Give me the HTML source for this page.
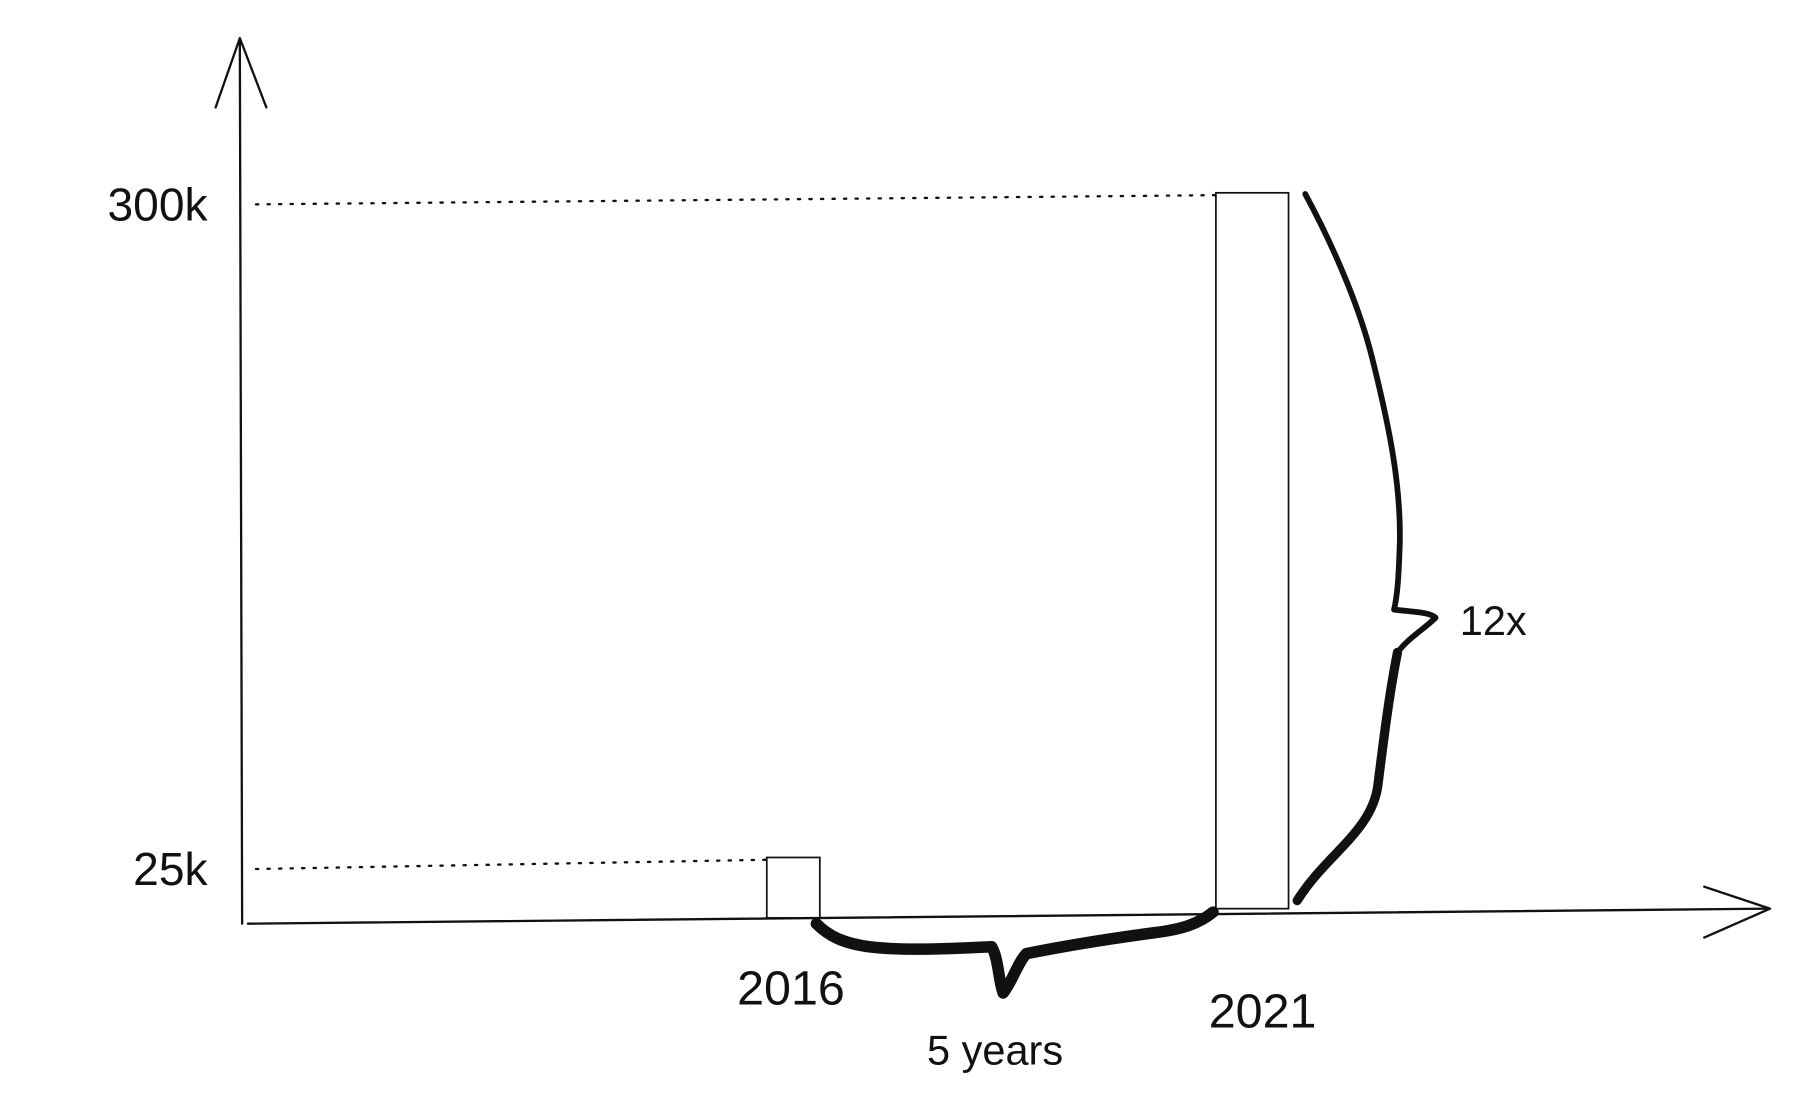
<!DOCTYPE html>
<html><head><meta charset="utf-8"><style>
html,body{margin:0;padding:0;background:#fff;}
svg{display:block;}
text{font-family:"Liberation Sans",sans-serif;fill:#111;}
</style></head><body>
<svg id="chart" width="1808" height="1098" viewBox="0 0 1568 951" preserveAspectRatio="none" xmlns="http://www.w3.org/2000/svg">
<g fill="none" stroke="#111" stroke-linecap="round" stroke-linejoin="round">
<path d="M210 800 L208 35" stroke-width="2"/>
<path d="M187 93 L208 33 L231 93" stroke-width="2"/>
<path d="M215 800 L1535 787" stroke-width="2"/>
<path d="M1478 768 L1535 787 L1478 812" stroke-width="2"/>
<path d="M1132 168 C1160 220 1180 270 1190 310 C1205 370 1215 420 1214 470 C1213 500 1212 515 1209 528 C1225 530 1240 530 1245 535 C1235 545 1222 552 1212 565 C1205 600 1200 640 1195 680 C1190 720 1150 740 1125 780" stroke-width="5"/>
<path d="M1212 565 C1205 600 1200 640 1195 680 C1190 720 1150 740 1125 780" stroke-width="8"/>
<path d="M708 800 C730 822 760 825 860 820 C866 830 866 850 870 860 C878 850 882 835 890 826 C930 818 970 812 1000 808 C1025 805 1040 800 1052 790" stroke-width="10"/>
</g>
<g id="marks"></g>
<text x="1266" y="550" font-size="36">12x</text>
<text x="804" y="922" font-size="36">5 years</text>
</svg>
<script>
const years = ["2016", "2021"];
const values = [25000, 300000];
const tickValues = [25000, 300000];
const tickLabels = ["25k", "300k"];

const NS = "http://www.w3.org/2000/svg";
const g = document.getElementById('marks');
function yScale(v){ return 795 - v * (628 / 300000); }
function xCenter(i){ return i === 0 ? 688 : 1086; }
const barWidths = [46, 63];
function mk(tag, attrs){ const e = document.createElementNS(NS, tag); for (const k in attrs) e.setAttribute(k, attrs[k]); g.appendChild(e); return e; }

tickValues.forEach((v, i) => {
  const y = yScale(v);
  const line = mk('line', {x1: 222, y1: y + 10, x2: i === 0 ? 665 : 1058, y2: y + 2, stroke: '#111', 'stroke-width': 2, 'stroke-dasharray': '2 8', 'stroke-linecap': 'round'});
  
  
  const t = mk('text', {x: 180, y: y + 24, 'font-size': 40, 'text-anchor': 'end'});
  t.textContent = tickLabels[i];
  
  
});

years.forEach((yr, i) => {
  const w = barWidths[i];
  const cx = xCenter(i);
  const top = yScale(values[i]);
  const base = i === 0 ? 795 : 787;
  const r = mk('rect', {x: cx - w / 2, y: top, width: w, height: base - top, fill: 'none', stroke: '#111', 'stroke-width': 1.5});
  
  
  const t = mk('text', {x: i === 0 ? 686 : 1095, y: i === 0 ? 870 : 890, 'font-size': 42, 'text-anchor': 'middle'});
  t.textContent = yr;
  
  
});
</script>
</body></html>
